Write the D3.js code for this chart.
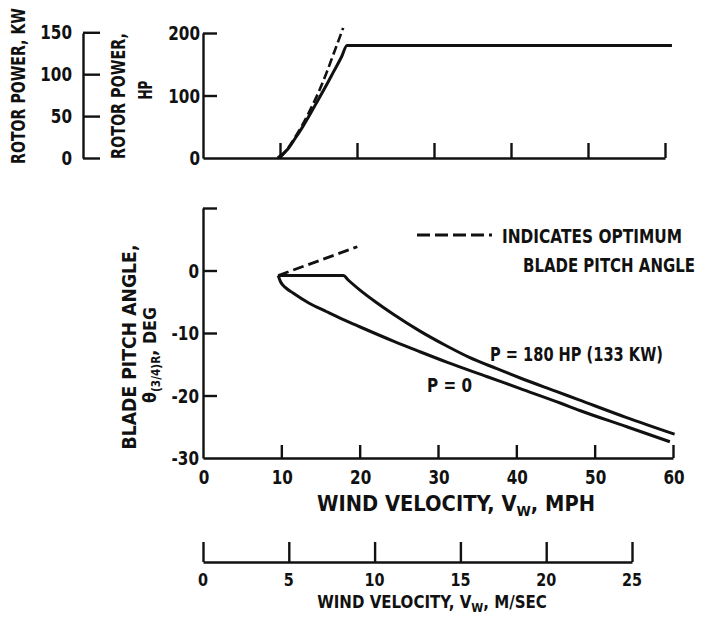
<!DOCTYPE html>
<html>
<head>
<meta charset="utf-8">
<script src="https://cdn.jsdelivr.net/npm/d3@7"></script>
<style>
  body { margin: 0; background: #fff; }
  text { font-family: "DejaVu Sans", sans-serif; font-weight: bold; fill: #111; }
</style>
</head>
<body>
<svg id="chart" width="709" height="621"></svg>
<script>
// ---- data ----
var mphTicks = [10, 20, 30, 40, 50, 60];
var mphLabels = [0, 10, 20, 30, 40, 50, 60];
var hpTicks = [100, 200];
var hpLabels = [0, 100, 200];
var kwTicks = [0, 50, 100, 150];
var pitchTicks = [10, 0, -10, -20];
var pitchLabels = [0, -10, -20, -30];
var msTicks = [0, 5, 10, 15, 20, 25];

// rotor power vs wind (top)
var powerMph = [9.7, 11, 12, 13, 14, 15, 16, 17, 18, 18.7, 60.9];
var powerHp  = [0, 14, 32, 51, 72, 94, 116, 139, 162, 180, 180];
var optPowerMph = [10, 11, 12, 13, 14, 15, 16, 17, 18.2];
var optPowerHp  = [0, 15, 34, 55, 79, 105, 135, 168, 208];

// blade pitch angle vs wind (bottom)
var pitch180Mph = [9.6, 17.9, 18.6, 20, 22, 24.3, 27.7, 31, 34, 37.5, 40.5, 45, 48, 54, 60.2];
var pitch180    = [-0.8, -0.8, -1.6, -3.1, -5.0, -7.0, -9.7, -12.0, -13.9, -15.7, -17.2, -19.3, -20.7, -23.5, -26.2];
var pitch0Mph = [9.6, 9.9, 10.5, 11.5, 13.5, 15.8, 18, 20, 24.3, 27.7, 31.2, 36.3, 40.5, 45.6, 48.1, 54.1, 59.6];
var pitch0    = [-0.8, -1.8, -2.7, -3.6, -5.2, -6.6, -7.9, -9.0, -11.3, -13.0, -14.7, -17.0, -18.9, -21.2, -22.4, -25.0, -27.4];
var optPitchMph = [9.6, 19.7];
var optPitch    = [-0.8, 3.8];

var svg = d3.select("#chart");
var ink = "#111";
var narrow = 0.8; // the lettering in the scan is condensed

// ---- scales ----
var xTop = d3.scaleLinear().domain([0, 60]).range([203, 665]);
var yHp = d3.scaleLinear().domain([0, 200]).range([158, 33]);
var yKw = d3.scaleLinear().domain([0, 200 * 0.7457]).range([158, 33]);
var xBot = d3.scaleLinear().domain([0, 60]).range([203, 673]);
var yPitch = d3.scaleLinear().domain([-30, 10]).range([458, 208]);
var xMs = d3.scaleLinear().domain([0, 25]).range([203, 632]);

function styleAxis(g) {
  g.attr("font-family", null).attr("font-size", null);
  g.selectAll("path, line").attr("stroke", ink).attr("stroke-width", 2.4);
  g.selectAll("text").remove();
}

// text squeezed to a given width (rot = true for vertical titles)
function title(x, y, str, size, width, anchor, rot) {
  var t = svg.append("text").attr("text-anchor", anchor).style("font-size", size + "px").text(str);
  var len = t.node().getComputedTextLength();
  t.attr("transform", "translate(" + x + "," + y + ")" + (rot ? " rotate(-90)" : "") + " scale(" + (width / len) + ",1)");
  return t;
}

function tickLabels(values, xf, yf, anchor, size) {
  svg.append("g").selectAll("text").data(values).join("text")
    .attr("transform", function (d) { return "translate(" + xf(d) + "," + yf(d) + ") scale(" + narrow + ",1)"; })
    .attr("text-anchor", anchor).style("font-size", size + "px")
    .text(function (d) { return d; });
}

// ---- top chart axes ----
svg.append("g")
  .attr("transform", "translate(0," + yHp(0) + ")")
  .call(d3.axisBottom(xTop).tickValues(mphTicks).tickSizeInner(-15).tickSizeOuter(0))
  .call(styleAxis);

svg.append("g")
  .attr("transform", "translate(" + xTop(0) + ",0)")
  .call(d3.axisLeft(yHp).tickValues(hpTicks).tickSizeInner(-14).tickSizeOuter(0))
  .call(styleAxis);
tickLabels(hpLabels, function () { return 200; }, function (d) { return yHp(d) + 7; }, "end", 19);

svg.append("g")
  .attr("transform", "translate(83,0)")
  .call(d3.axisLeft(yKw).tickValues(kwTicks).tickSizeInner(-17).tickSizeOuter(0))
  .call(styleAxis);
tickLabels(kwTicks, function () { return 72; }, function (d) { return yKw(d) + 7; }, "end", 19);

// ---- top chart lines ----
var linePower = d3.line()
  .x(function (d) { return xTop(d[0]); })
  .y(function (d) { return yHp(d[1]); })
  .curve(d3.curveMonotoneX);

svg.append("path")
  .datum(d3.zip(powerMph, powerHp))
  .attr("d", linePower)
  .attr("fill", "none").attr("stroke", ink).attr("stroke-width", 3);

svg.append("path")
  .datum(d3.zip(optPowerMph, optPowerHp))
  .attr("d", linePower)
  .attr("fill", "none").attr("stroke", ink).attr("stroke-width", 2.6)
  .attr("stroke-dasharray", "9,4");

// ---- top titles ----
title(25, 86, "ROTOR POWER, KW", 20, 156, "middle", true);
title(125, 96, "ROTOR POWER,", 20, 126, "middle", true);
title(152, 90, "HP", 20, 19, "middle", true);

// ---- bottom chart axes ----
svg.append("g")
  .attr("transform", "translate(0," + yPitch(-30) + ")")
  .call(d3.axisBottom(xBot).tickValues(mphTicks).tickSizeInner(-13).tickSizeOuter(0))
  .call(styleAxis);
tickLabels(mphLabels, function (d) { return xBot(d) + 1; }, function () { return 484; }, "middle", 19);

svg.append("g")
  .attr("transform", "translate(" + xBot(0) + ",0)")
  .call(d3.axisLeft(yPitch).tickValues(pitchTicks).tickSizeInner(-14).tickSizeOuter(0))
  .call(styleAxis);
tickLabels(pitchLabels, function () { return 199; }, function (d) { return yPitch(d) + 7; }, "end", 19);

// ---- bottom chart lines ----
var linePitch = d3.line()
  .x(function (d) { return xBot(d[0]); })
  .y(function (d) { return yPitch(d[1]); })
  .curve(d3.curveMonotoneX);

svg.append("path")
  .datum(d3.zip(pitch180Mph, pitch180))
  .attr("d", linePitch)
  .attr("fill", "none").attr("stroke", ink).attr("stroke-width", 3).attr("stroke-linejoin", "round");

svg.append("path")
  .datum(d3.zip(pitch0Mph, pitch0))
  .attr("d", linePitch)
  .attr("fill", "none").attr("stroke", ink).attr("stroke-width", 3).attr("stroke-linejoin", "round");

svg.append("path")
  .datum(d3.zip(optPitchMph, optPitch))
  .attr("d", d3.line().x(function (d) { return xBot(d[0]); }).y(function (d) { return yPitch(d[1]); }))
  .attr("fill", "none").attr("stroke", ink).attr("stroke-width", 2.8)
  .attr("stroke-dasharray", "11,5");

// curve labels
title(490, 361, "P = 180 HP (133 KW)", 20, 173, "start", false);
title(427, 392, "P = 0", 20, 45, "start", false);

// legend
svg.append("line").attr("x1", 417).attr("x2", 492).attr("y1", 235).attr("y2", 235)
  .attr("stroke", ink).attr("stroke-width", 2.8).attr("stroke-dasharray", "13,5");
title(502, 243, "INDICATES OPTIMUM", 20, 180, "start", false);
title(523, 272, "BLADE PITCH ANGLE", 20, 172, "start", false);

// y title
title(136, 347, "BLADE PITCH ANGLE,", 20, 205, "middle", true);

var th = svg.append("text").attr("text-anchor", "middle").style("font-size", "18px");
th.append("tspan").text("\u03b8");
th.append("tspan").attr("dy", 4).style("font-size", "12px").text("(3/4)R");
th.append("tspan").attr("dy", -4).text(", DEG");
th.attr("transform", "translate(156,355) rotate(-90) scale(" + (96 / th.node().getComputedTextLength()) + ",1)");

// x title (mph)
var tm = svg.append("text").attr("text-anchor", "middle").style("font-size", "21px");
tm.append("tspan").text("WIND VELOCITY, V");
tm.append("tspan").attr("dy", 5).style("font-size", "14px").text("W");
tm.append("tspan").attr("dy", -5).text(", MPH");
tm.attr("transform", "translate(456,511) scale(" + (278 / tm.node().getComputedTextLength()) + ",1)");

// ---- m/sec axis ----
svg.append("g")
  .attr("transform", "translate(0,562)")
  .call(d3.axisBottom(xMs).tickValues(msTicks).tickSizeInner(-20).tickSizeOuter(0))
  .call(styleAxis);
tickLabels(msTicks, function (d) { return xMs(d); }, function () { return 586; }, "middle", 18);

var ts = svg.append("text").attr("text-anchor", "middle").style("font-size", "18px");
ts.append("tspan").text("WIND VELOCITY, V");
ts.append("tspan").attr("dy", 4).style("font-size", "13px").text("W");
ts.append("tspan").attr("dy", -4).text(", M/SEC");
ts.attr("transform", "translate(432,608) scale(" + (230 / ts.node().getComputedTextLength()) + ",1)");
</script>
</body>
</html>
